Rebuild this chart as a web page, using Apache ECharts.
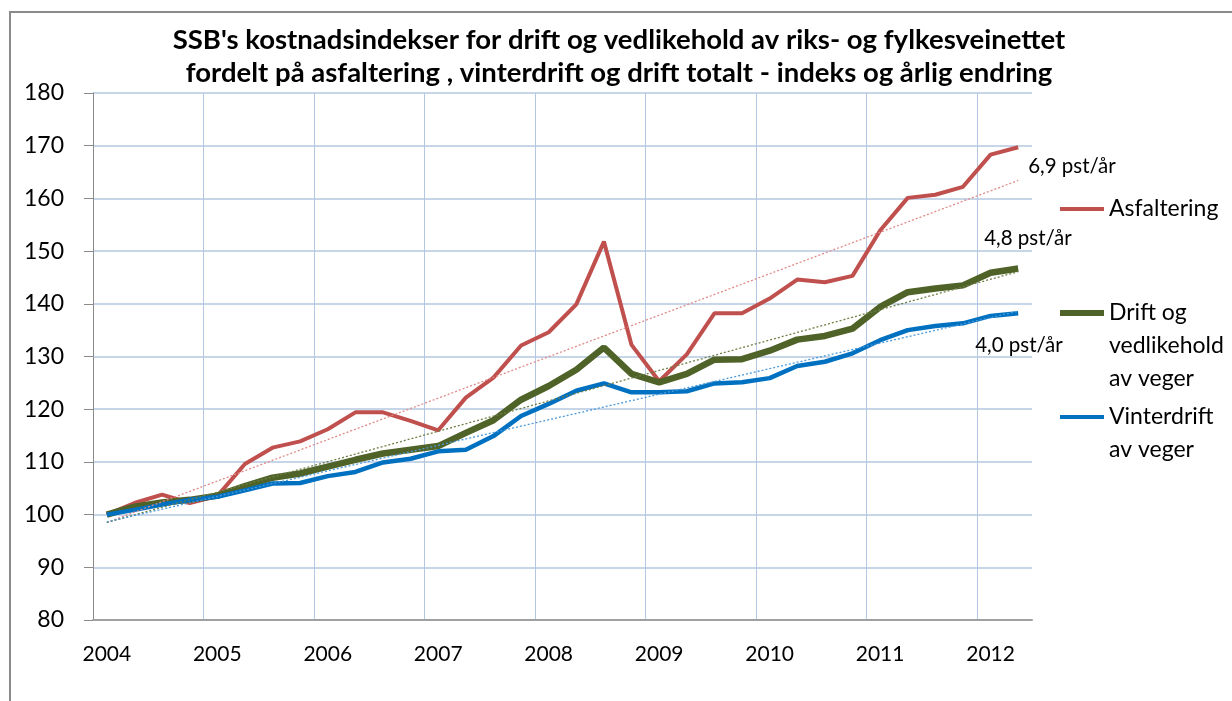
<!DOCTYPE html>
<html>
<head>
<meta charset="utf-8">
<title>SSB kostnadsindekser</title>
<script src="https://cdn.jsdelivr.net/npm/echarts@6/dist/echarts.min.js"></script>
<style>
html, body { margin: 0; padding: 0; background: #fff; }
#mychart { width: 1232px; height: 701px; }
</style>
</head>
<body>
<div id="mychart"></div>
<script>
// kvartaler 2004K1 - 2012K2
const quarters = [
  '2004K1', '2004K2', '2004K3', '2004K4', '2005K1', '2005K2', '2005K3', '2005K4',
  '2006K1', '2006K2', '2006K3', '2006K4', '2007K1', '2007K2', '2007K3', '2007K4',
  '2008K1', '2008K2', '2008K3', '2008K4', '2009K1', '2009K2', '2009K3', '2009K4',
  '2010K1', '2010K2', '2010K3', '2010K4', '2011K1', '2011K2', '2011K3', '2011K4',
  '2012K1', '2012K2'
]
const asfaltering = [
  100, 102.2, 103.8, 102.2, 103.5, 109.6, 112.7, 113.9,
  116.2, 119.4, 119.4, 117.8, 116.0, 122.2, 126.0, 132.1,
  134.6, 139.9, 151.8, 132.2, 125.3, 130.4, 138.2, 138.2,
  141.0, 144.6, 144.1, 145.3, 153.9, 160.1, 160.7, 162.2,
  168.3, 169.7
]
const driftOgVedlikehold = [
  100, 101.5, 102.3, 102.8, 103.6, 105.4, 107.0, 107.8,
  109.1, 110.4, 111.6, 112.3, 113.0, 115.5, 117.9, 121.8,
  124.4, 127.5, 131.7, 126.7, 125.1, 126.7, 129.4, 129.5,
  131.1, 133.2, 133.9, 135.3, 139.4, 142.2, 142.9, 143.5,
  145.9, 146.7
]
const vinterdrift = [
  100, 100.9, 101.9, 102.8, 103.4, 104.6, 105.9, 106.0,
  107.3, 108.1, 109.9, 110.6, 112.0, 112.3, 114.9, 118.7,
  121.0, 123.5, 124.9, 123.2, 123.2, 123.4, 124.9, 125.1,
  125.9, 128.2, 129.0, 130.6, 133.1, 135.0, 135.8, 136.3,
  137.7, 138.2
]
// trendlinjer: verdi i første og siste kvartal
const trendAsfaltering = [98.5, 163.4]
const trendDrift = [98.5, 146.1]
const trendVinter = [98.6, 138.6]
const trendLabels = ['6,9 pst/år', '4,8 pst/år', '4,0 pst/år']

const font = 'Lato, "Noto Sans", sans-serif'
const gridColor = '#B4C7E2'

const mychart = echarts.init(document.getElementById('mychart'))

function trend (vals, color) {
  return {
    silent: true,
    symbol: 'none',
    label: { show: false },
    lineStyle: { type: [2, 2], width: 1.3, color: color },
    data: [[
      { coord: [quarters[0], vals[0]] },
      { coord: [quarters[quarters.length - 1], vals[1]] }
    ]]
  }
}

// blanke linjer foran, slik at ikonet står ved første tekstlinje
function legendFor (name, top, blank, iconH) {
  return {
    data: [name],
    orient: 'vertical',
    left: 1060,
    top: top,
    padding: 0,
    icon: 'rect',
    itemWidth: 44,
    itemHeight: iconH,
    formatter: n => '\n'.repeat(blank) + n,
    textStyle: {
      fontFamily: font,
      fontSize: 23,
      lineHeight: 33,
      color: '#000'
    }
  }
}

function endLabel (text, offset) {
  return {
    show: true,
    formatter: text,
    fontFamily: font,
    fontSize: 20.5,
    color: '#000',
    offset: offset
  }
}

mychart.setOption({
  animation: false,
  title: {
    text: "SSB's kostnadsindekser for drift og vedlikehold av riks- og fylkesveinettet\nfordelt på asfaltering , vinterdrift og drift totalt - indeks og årlig endring",
    left: 619,
    textAlign: 'center',
    top: 24,
    padding: 0,
    textStyle: {
      fontFamily: font,
      fontSize: 27.5,
      fontWeight: 'bold',
      lineHeight: 33,
      color: '#000'
    }
  },
  graphic: [{
    type: 'rect',
    shape: { x: 10, y: 12, width: 1400, height: 900 },
    style: { fill: 'none', stroke: '#8a8a8a', lineWidth: 2 },
    silent: true
  }],
  legend: [
    legendFor('Asfaltering', 192.5, 0, 4),
    legendFor('Drift og\nvedlikehold\nav veger', 230.5, 2, 6),
    legendFor('Vinterdrift\nav veger', 367.5, 1, 4)
  ],
  grid: {
    left: 93,
    top: 93,
    right: 200,
    bottom: 81
  },
  xAxis: {
    type: 'category',
    data: quarters,
    boundaryGap: true,
    axisLine: { lineStyle: { color: '#A0A0A0', width: 2 } },
    axisTick: { interval: 3, length: 8, lineStyle: { color: '#999' } },
    axisLabel: {
      interval: 3,
      formatter: v => v.slice(0, 4),
      fontFamily: font,
      fontSize: 21,
      color: '#000',
      margin: 24
    },
    splitLine: {
      show: true,
      interval: 3,
      showMaxLine: false,
      lineStyle: { color: gridColor, width: 1 }
    }
  },
  yAxis: {
    type: 'value',
    min: 80,
    max: 180,
    interval: 10,
    axisLine: { show: true, lineStyle: { color: '#8a8a8a', width: 1 } },
    axisTick: { show: true, length: 9, lineStyle: { color: '#8a8a8a' } },
    axisLabel: {
      fontFamily: font,
      fontSize: 23,
      color: '#000',
      margin: 29
    },
    splitLine: { lineStyle: { color: gridColor, width: 1.5 } }
  },
  series: [
    {
      name: 'Asfaltering',
      type: 'line',
      data: asfaltering,
      symbol: 'none',
      color: '#C0504D',
      lineStyle: { width: 4, color: '#C0504D' },
      markLine: trend(trendAsfaltering, '#E08A88'),
      endLabel: endLabel(trendLabels[0], [2, 19])
    },
    {
      name: 'Drift og\nvedlikehold\nav veger',
      type: 'line',
      data: driftOgVedlikehold,
      symbol: 'none',
      color: '#4F6228',
      lineStyle: { width: 6.5, color: '#4F6228' },
      markLine: trend(trendDrift, '#6E7F45'),
      endLabel: endLabel(trendLabels[1], [-42, -30])
    },
    {
      name: 'Vinterdrift\nav veger',
      type: 'line',
      data: vinterdrift,
      symbol: 'none',
      color: '#0070C0',
      lineStyle: { width: 4.5, color: '#0070C0' },
      markLine: trend(trendVinter, '#4A9ADB'),
      endLabel: endLabel(trendLabels[2], [-51, 32])
    }
  ]
})

window.onresize = function () {
  mychart.resize()
}
</script>
</body>
</html>
